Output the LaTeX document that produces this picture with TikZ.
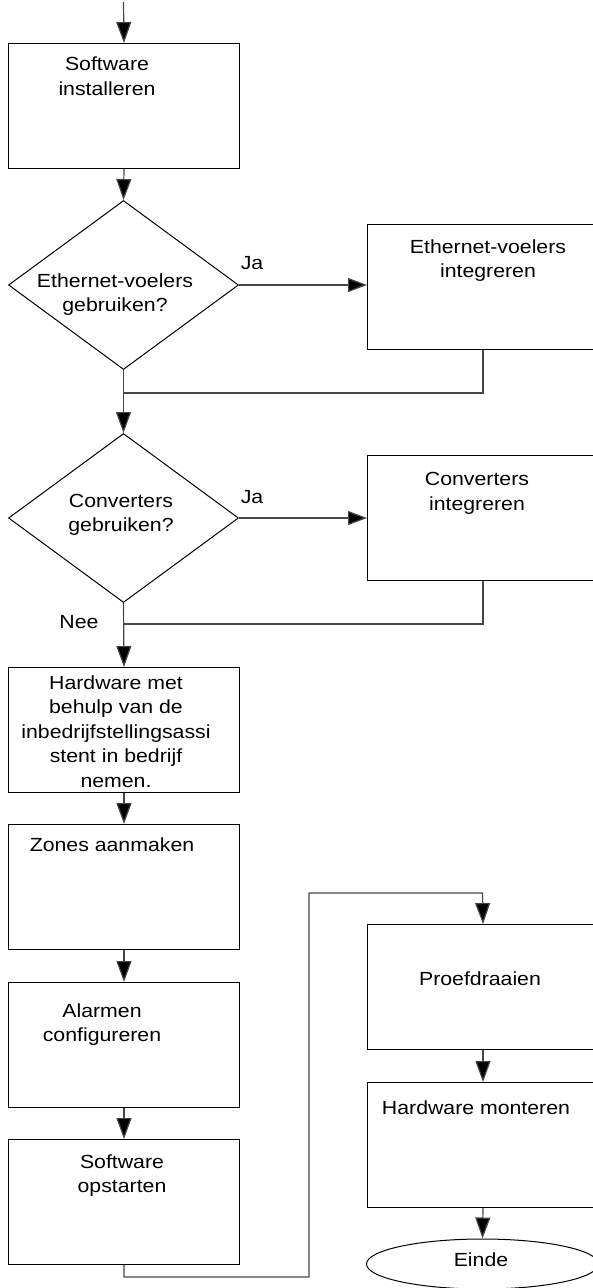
\documentclass[tikz,border=0pt]{standalone}
\usepackage{fontspec}
\setmainfont{Liberation Sans}[FakeStretch=1.12]
\usetikzlibrary{arrows.meta,shapes.geometric}

\begin{document}
\begin{tikzpicture}[x=1pt,y=-1pt,
  every node/.style={font=\fontsize{19}{24.5}\selectfont},
  stepbox/.style={draw=black, line width=1pt, rectangle, minimum width=231pt,
    minimum height=125pt, inner sep=0pt, anchor=north west},
  decision/.style={draw=black, line width=1pt, diamond, minimum width=230pt,
    minimum height=169pt, inner sep=0pt},
  terminal/.style={draw=black, line width=1pt, ellipse, minimum width=232pt,
    minimum height=50pt, inner sep=0pt},
  txt/.style={align=center, inner sep=0pt},
  link/.style={draw={rgb,255:red,70;green,70;blue,70}, line width=1.2pt},
  arr/.style={link, -{Triangle[length=21pt,width=15pt,fill=black]}},
  harr/.style={link, -{Triangle[length=19pt,width=14pt,fill=black]}}]

\useasboundingbox (0,0) rectangle (593,1288);
\clip (0,0) rectangle (593,1288);

% left column
\coordinate (start) at (123.5,2);
\node[stepbox] (b1) at (8,43) {};
\node[txt] (t1) at (107,76) {Software\\installeren};

\node[decision] (d1) at (123.5,285) {};
\node[txt] (td1) at (115,294.5) {Ethernet-voelers\\gebruiken?};

\node[decision] (d2) at (123.5,518) {};
\node[txt] (td2) at (121,515) {Converters\\gebruiken?};

\node[stepbox] (b4) at (8,667) {};
\node[txt] (t4) at (116,731.5) {Hardware met\\behulp van de\\inbedrijfstellingsassi\\stent in bedrijf\\nemen.};

\node[stepbox] (b5) at (8,824) {};
\node[txt] (t5) at (112,845) {Zones aanmaken};

\node[stepbox] (b6) at (8,982) {};
\node[txt] (t6) at (102,1024.5) {Alarmen\\configureren};

\node[stepbox] (b7) at (8,1139) {};
\node[txt] (t7) at (122,1175.5) {Software\\opstarten};

% right column
\node[stepbox] (b2) at (367,224) {};
\node[txt] (t2) at (488,260.5) {Ethernet-voelers\\integreren};

\node[stepbox] (b3) at (367,455) {};
\node[txt] (t3) at (477,493.5) {Converters\\integreren};

\node[stepbox] (b8) at (367,924) {};
\node[txt] (t8) at (480,979) {Proefdraaien};

\node[stepbox] (b9) at (367,1082) {};
\node[txt] (t9) at (476,1108) {Hardware monteren};

\node[terminal] (end) at (482.5,1264) {};
\node[txt] (tend) at (481,1260) {Einde};

% branch labels
\node[txt] (ja1) at (252,263) {Ja};
\node[txt] (ja2) at (252,497) {Ja};
\node[txt] (nee) at (79,622) {Nee};

% merge points and bends
\coordinate (m1) at (123.5,393);
\coordinate (m2) at (123.5,624);
\coordinate (turnA) at (309,1277);
\coordinate (turnB) at (482.5,893);

% connectors
\draw[arr] (start) -- (b1.north);
\draw[arr] (b1.south) -- (d1.north);
\draw[harr] (d1.east) -- (d1.east -| b2.west);
\draw[link] (b2.south) |- (m1);
\draw[arr] (d1.south) -- (d2.north);
\draw[harr] (d2.east) -- (d2.east -| b3.west);
\draw[link] (b3.south) |- (m2);
\draw[arr] (d2.south) -- (b4.north);
\draw[arr] (b4.south) -- (b5.north);
\draw[arr] (b5.south) -- (b6.north);
\draw[arr] (b6.south) -- (b7.north);
\draw[arr] (b7.south) |- (turnA) |- (turnB) -- (b8.north);
\draw[arr] (b8.south) -- (b9.north);
\draw[arr] (b9.south) -- (end.north);
\end{tikzpicture}
\end{document}
